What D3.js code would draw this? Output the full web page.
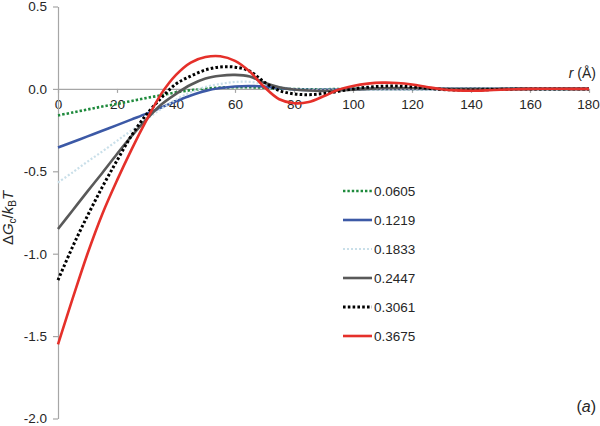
<!DOCTYPE html>
<html>
<head>
<meta charset="utf-8">
<script src="https://cdn.jsdelivr.net/npm/d3@7"></script>
<style>
body{margin:0;background:#fff;}
svg{display:block;font-family:"Liberation Sans",Arial,sans-serif;}
</style>
</head>
<body>
<svg id="chart" width="600" height="426"></svg>
<script>
// ---- data ----
const rValues = [0,5,10,15,20,25,30,35,40,45,50,55,60,65,70,75,80,85,90,95,100,105,110,115,120,125,130,135,140,145,150,155,160,165,170,175,180];
const seriesNames = ["0.0605","0.1219","0.1833","0.2447","0.3061","0.3675"];
const s0605 = [-0.161,-0.143,-0.125,-0.107,-0.091,-0.073,-0.055,-0.039,-0.021,-0.008,0.002,0.008,0.01,0.01,0.007,0.002,-0.001,-0.002,-0.002,-0.001,0,0,0,0,0,0,0,0,0,0,0,0,0,0,0,0,0];
const s1219 = [-0.356,-0.322,-0.288,-0.254,-0.22,-0.185,-0.15,-0.113,-0.075,-0.04,-0.012,0.005,0.015,0.018,0.014,0.005,-0.003,-0.006,-0.006,-0.004,-0.002,0,0,0,0,0,0,0,0,0,0,0,0,0,0,0,0];
const s1833 = [-0.568,-0.506,-0.441,-0.38,-0.315,-0.251,-0.185,-0.121,-0.065,-0.02,0.012,0.03,0.042,0.043,0.03,0.012,0,-0.005,-0.006,-0.005,-0.003,-0.001,0,0,0,0,0,0,0,0,0,0,0,0,0,0,0];
const s2447 = [-0.85,-0.736,-0.622,-0.51,-0.395,-0.285,-0.185,-0.095,-0.03,0.025,0.063,0.08,0.085,0.075,0.037,0.01,-0.004,-0.01,-0.012,-0.01,-0.005,0,0.004,0.005,0.004,0.002,0,-0.001,-0.001,-0.001,0,0,0,0,0,0,0];
const s3061 = [-1.16,-0.956,-0.77,-0.596,-0.435,-0.281,-0.155,-0.055,0.03,0.078,0.115,0.133,0.132,0.108,0.04,-0.01,-0.03,-0.035,-0.028,-0.015,0,0.01,0.016,0.017,0.012,0.004,-0.003,-0.007,-0.007,-0.005,-0.003,-0.001,0,0,0,0,0];
const s3675 = [-1.55,-1.27,-1.0,-0.76,-0.555,-0.365,-0.19,-0.03,0.085,0.16,0.193,0.198,0.17,0.105,0.01,-0.063,-0.087,-0.08,-0.045,-0.005,0.018,0.032,0.038,0.036,0.027,0.012,-0.002,-0.009,-0.011,-0.009,-0.005,-0.002,0,0.001,0.001,0,0];
const xTicks = [0,20,40,60,80,100,120,140,160,180];
const yTicks = [0.5,0,-0.5,-1,-1.5,-2];

const seriesValues = [s0605,s1219,s1833,s2447,s3061,s3675];
const seriesStyle = [
  {color:"#1e8a3c", width:2.6, dash:"2.4,2"},
  {color:"#3c59a6", width:2.6, dash:null},
  {color:"#c9dfe9", width:2.2, dash:"2,2"},
  {color:"#595959", width:2.6, dash:null},
  {color:"#000000", width:3, dash:"2.6,2.2"},
  {color:"#e5302a", width:2.6, dash:null}
];

const svg = d3.select("#chart");
const x = d3.scaleLinear().domain([0,180]).range([58,589]);
const y = d3.scaleLinear().domain([-2,0.5]).range([418.5,6.5]);

// axes
const xAxis = d3.axisBottom(x).tickValues(xTicks).tickSize(4).tickSizeOuter(0).tickPadding(7).tickFormat(d3.format("d"));
const gx = svg.append("g").attr("transform",`translate(0,${y(0)})`).call(xAxis);
const yAxis = d3.axisLeft(y).tickValues(yTicks).tickSize(5).tickSizeOuter(0).tickPadding(6).tickFormat(d3.format(".1f"));
const gy = svg.append("g").attr("transform",`translate(${x(0)},0)`).call(yAxis);
[gx,gy].forEach(g=>{
  g.select(".domain").attr("stroke","#a6a6a6").attr("stroke-width",1.2);
  g.selectAll(".tick line").attr("stroke","#a6a6a6").attr("stroke-width",1.2);
  g.selectAll(".tick text").attr("fill","#262626").style("font-size","13.5px").style("font-family","'Liberation Sans',Arial,sans-serif");
});
gy.selectAll(".tick text").text(d=> d===0 ? "0.0" : d3.format(".1f")(d).replace("−","-"));
gx.selectAll(".tick").filter(d=>d===180).select("text").attr("text-anchor","middle").attr("dx",-1);

// lines
const line = d3.line().x((d,i)=>x(rValues[i])).y(d=>y(d)).curve(d3.curveCatmullRom.alpha(0.5));
seriesValues.forEach((vals,k)=>{
  const st = seriesStyle[k];
  const p = svg.append("path").datum(vals).attr("d",line)
    .attr("fill","none").attr("stroke",st.color).attr("stroke-width",st.width);
  if(st.dash) p.attr("stroke-dasharray",st.dash);
});

// legend
const legendY = d3.scalePoint().domain(seriesNames).range([191,336]);
seriesNames.forEach((name,k)=>{
  const st = seriesStyle[k];
  const ly = legendY(name);
  const l = svg.append("line").attr("x1",343).attr("x2",372).attr("y1",ly).attr("y2",ly)
    .attr("stroke",st.color).attr("stroke-width",st.width);
  if(st.dash) l.attr("stroke-dasharray",st.dash);
  svg.append("text").attr("x",374).attr("y",ly).attr("dy","0.36em")
    .attr("fill","#262626").style("font-size","13.5px").text(name);
});

// x axis title
const xt = svg.append("text").attr("x",596).attr("y",78).attr("text-anchor","end")
  .attr("fill","#262626").style("font-size","14px");
xt.append("tspan").style("font-style","italic").text("r");
xt.append("tspan").text(" (Å)");

// y axis title
const yt = svg.append("text").attr("transform","translate(13,218) rotate(-90)")
  .attr("text-anchor","middle").attr("fill","#262626").style("font-size","15px");
yt.append("tspan").text("Δ");
yt.append("tspan").style("font-style","italic").text("G");
yt.append("tspan").style("font-size","10px").attr("dy",3).text("c");
yt.append("tspan").attr("dy",-3).text("/");
yt.append("tspan").style("font-style","italic").text("k");
yt.append("tspan").style("font-size","10px").attr("dy",3).text("B");
yt.append("tspan").attr("dy",-3).style("font-style","italic").text("T");

// panel label
const pl = svg.append("text").attr("x",596).attr("y",412).attr("text-anchor","end")
  .attr("fill","#262626").style("font-size","16px");
pl.append("tspan").text("(");
pl.append("tspan").style("font-style","italic").text("a");
pl.append("tspan").text(")");
</script>
</body>
</html>
